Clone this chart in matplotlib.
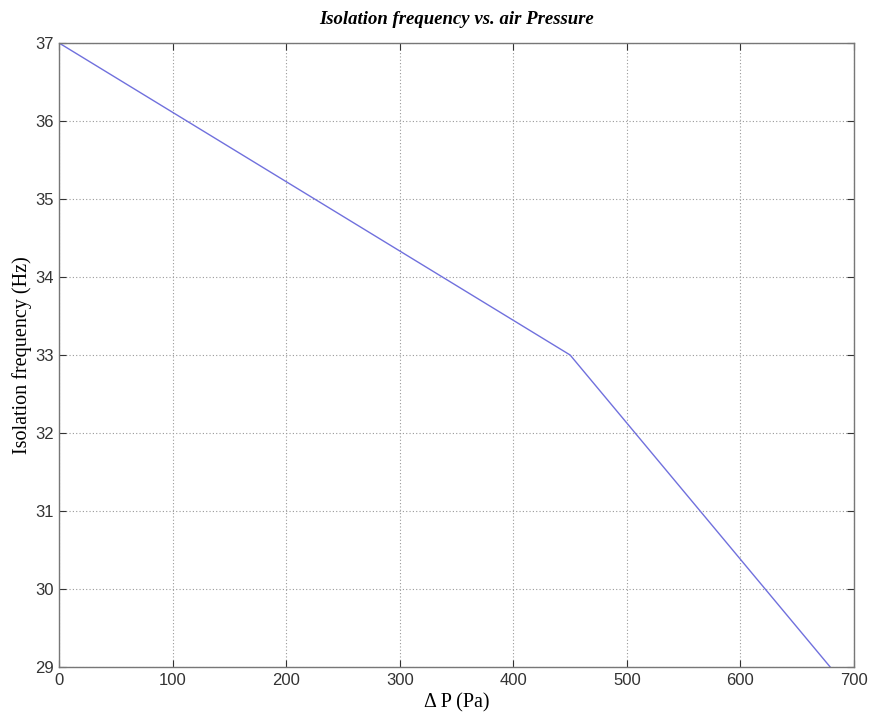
import matplotlib
matplotlib.use("Agg")
import matplotlib.pyplot as plt

pressure = [0, 450, 679]
frequency = [37.0, 33.0, 29.0]
x_ticks = [0, 100, 200, 300, 400, 500, 600, 700]
y_ticks = [29, 30, 31, 32, 33, 34, 35, 36, 37]

fig = plt.figure(figsize=(8.72, 7.2), dpi=100)
ax = fig.add_axes([0.0677, 0.0736, 0.9117, 0.8667])
ax.plot(pressure, frequency, color="#7070dd", lw=1.0)
ax.set_xlim(0, 700)
ax.set_ylim(29, 37)
ax.set_xticks(x_ticks)
ax.set_yticks(y_ticks)
ax.grid(True, linestyle=(0, (1, 2)), color="#999999", lw=0.8)
ax.tick_params(direction="in", top=True, right=True, labelsize=12, colors="#333333",
               length=5, width=0.8, pad=4)
for lab in ax.get_xticklabels() + ax.get_yticklabels():
    lab.set_family("Liberation Sans")
for s in ax.spines.values():
    s.set_color("#777777")
    s.set_linewidth(1.0)
ax.set_xlabel("Δ P (Pa)", family="Liberation Serif", fontsize=14.5, labelpad=4)
ax.set_ylabel("Isolation frequency (Hz)", family="Liberation Serif", fontsize=14.5, labelpad=2)
ax.set_title("Isolation frequency vs. air Pressure", family="Liberation Serif",
             style="italic", fontweight="bold", fontsize=13.5, pad=14)
fig.savefig("out.png", dpi=100)
